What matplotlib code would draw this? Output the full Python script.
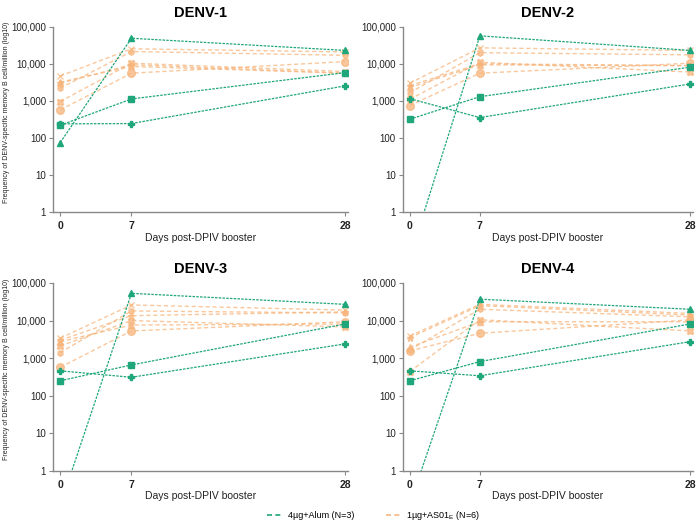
import matplotlib
matplotlib.use('Agg')
import matplotlib.pyplot as plt
from matplotlib.ticker import FixedLocator, FixedFormatter
from matplotlib.lines import Line2D

plt.rcParams['font.family'] = ['Liberation Sans', 'DejaVu Sans']

days = [0, 7, 28]
panels = ['DENV-1', 'DENV-2', 'DENV-3', 'DENV-4']

# 4ug+Alum (N=3): triangle, square, diamond subjects
alum_tri = [[75, 49000, 23000], [0.06, 57000, 23000], [0.12, 53000, 27000], [0.13, 37000, 20000]]
alum_sq = [[220, 1130, 5800], [320, 1300, 8100], [250, 660, 8100], [250, 810, 8100]]
alum_dia = [[240, 245, 2550], [1150, 355, 2870], [460, 310, 2400], [460, 340, 2750]]

# 1ug+AS01E (N=6): six subjects
as01_a = [[4700, 25500, 21000], [3000, 27000, 23000], [3400, 26000, 19000], [3900, 27000, 15500]]
as01_b = [[3200, 8500, 5600], [2300, 9400, 8900], [2750, 7600, 8100], [1950, 9300, 9300]]
as01_c = [[2200, 21500, 17000], [1650, 20000, 17500], [1400, 18000, 16000], [1650, 20000, 12600]]
as01_d = [[960, 10400, 6200], [1100, 11000, 6000], [2100, 10000, 6800], [440, 10500, 5300]]
as01_e = [[570, 5600, 11500], [750, 5600, 10400], [570, 5300, 9300], [1550, 4600, 10400]]
as01_f = [[3000, 9500, 5600], [2600, 10000, 9000], [3000, 13500, 17000], [3500, 25000, 14000]]

yticks = [1, 10, 100, 1000, 10000, 100000]
ylabels = ['1', '10', '100', '1,000', '10,000', '100,000']

green = '#1fa67a'
orange = '#f7b57c'

fig = plt.figure(figsize=(6.98, 5.25), dpi=100)
pos = [[0.076, 0.596, 0.423, 0.353],
       [0.577, 0.596, 0.416, 0.353],
       [0.076, 0.103, 0.423, 0.358],
       [0.577, 0.103, 0.416, 0.358]]

orange_sets = [(as01_a, 'x', 4.5), (as01_b, '^', 4.5), (as01_c, 'h', 4), (as01_d, 'X', 4.5),
               (as01_e, 'o', 5.5), (as01_f, '*', 5)]
green_sets = [(alum_tri, '^', 4.5), (alum_sq, 's', 4.5), (alum_dia, 'P', 4)]

for i in range(4):
   ax = fig.add_axes(pos[i])
   for data, mk, ms in orange_sets:
      ax.plot(days, data[i], color=orange, alpha=0.75, lw=1.0, ls=(0, (3, 2)),
              marker=mk, ms=ms, mec=orange, mfc=orange)
   for data, mk, ms in green_sets:
      ax.plot(days, data[i], color=green, lw=0.9, ls=(0, (2, 1)),
              marker=mk, ms=ms, mec=green, mfc=green)
   ax.set_yscale('log')
   ax.set_ylim(1, 100000)
   ax.set_xlim(-0.7, 28.3)
   ax.yaxis.set_major_locator(FixedLocator(yticks))
   ax.yaxis.set_major_formatter(FixedFormatter(ylabels))
   ax.yaxis.set_minor_locator(FixedLocator([]))
   ax.set_xticks(days)
   ax.set_xticklabels(['0', '7', '28'], fontweight='bold', fontsize=7.5)
   ax.tick_params(axis='y', labelsize=7, length=3, color='#888888', width=0.8, pad=2,
                  labelcolor='#222222')
   ax.tick_params(axis='x', length=3, color='#888888', width=0.8, labelcolor='#222222')
   for s in ['top', 'right']:
      ax.spines[s].set_visible(False)
   for s in ['left', 'bottom']:
      ax.spines[s].set_color('#888888')
      ax.spines[s].set_linewidth(1.0)
   ax.set_title(panels[i], fontsize=10.5, fontweight='bold', pad=7)
   ax.set_xlabel('Days post-DPIV booster', fontsize=7.5, labelpad=1, color='#222222')
   if i % 2 == 0:
      ax.set_ylabel('Frequency of DENV-specific memory B cell/million (log10)', fontsize=5,
                    color='#222222')
      ax.yaxis.set_label_coords(-0.145, 0.54)

handles = [Line2D([0], [0], color=green, lw=1.2, ls=(0, (3, 2))),
           Line2D([0], [0], color=orange, lw=1.2, ls=(0, (3, 2)))]
fig.legend(handles, ['4\u00b5g+Alum (N=3)', '1\u00b5g+AS01$_\\mathregular{E}$ (N=6)'],
           loc='lower center', bbox_to_anchor=(0.535, -0.01), ncol=2, frameon=False,
           fontsize=6.5, columnspacing=3.5, handlelength=1.7, handletextpad=0.6)

plt.savefig('out.png', dpi=100)
